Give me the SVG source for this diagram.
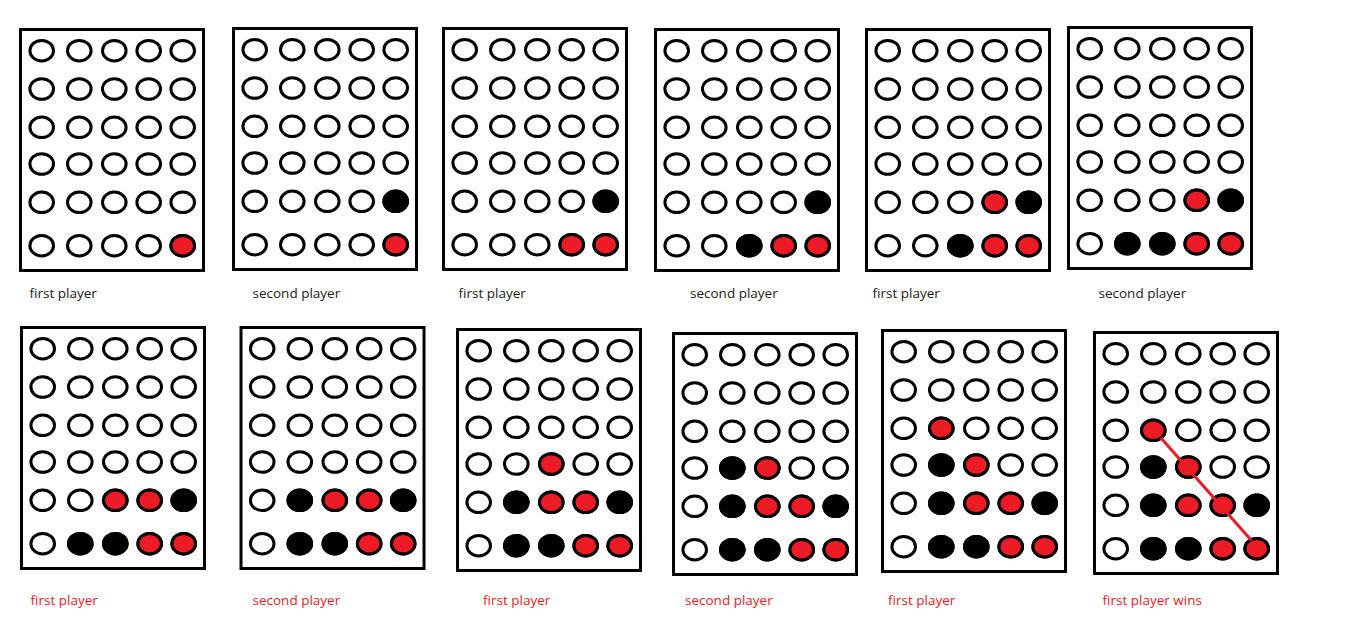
<svg xmlns="http://www.w3.org/2000/svg" xmlns:xlink="http://www.w3.org/1999/xlink" width="1360" height="623" viewBox="0 0 1360 623">
<style>
.frame{fill:#fff;stroke:#000;stroke-width:3}
.e{fill:#fff;stroke:#000;stroke-width:3}
.r{fill:#ED1C24;stroke:#000;stroke-width:3}
.b{fill:#000;stroke:#000;stroke-width:3}
.lbl{font-family:"Open Sans","Noto Sans",sans-serif;font-size:13.5px}
.k{fill:#1a1a1a}
.red{fill:#ED1C24}
.win{stroke:#ED1C24;stroke-width:3;fill:none}
</style>
<defs>
<g id="row"><ellipse class="e" cx="22.7" cy="0" rx="11.8" ry="10.3"/><ellipse class="e" cx="60.3" cy="0" rx="11.8" ry="10.3"/><ellipse class="e" cx="95.3" cy="0" rx="11.8" ry="10.3"/><ellipse class="e" cx="129.7" cy="0" rx="11.8" ry="10.3"/><ellipse class="e" cx="163.7" cy="0" rx="11.8" ry="10.3"/></g>
<g id="grid">
<rect class="frame" x="1.5" y="1.5" width="183" height="241"/>
<use xlink:href="#row" href="#row" y="22.7"/>
<use xlink:href="#row" href="#row" y="61"/>
<use xlink:href="#row" href="#row" y="99.3"/>
<use xlink:href="#row" href="#row" y="136"/>
<use xlink:href="#row" href="#row" y="174.3"/>
<use xlink:href="#row" href="#row" y="217.7"/>
</g>
</defs>
<rect width="1360" height="623" fill="#fff"/>

<g id="board1" transform="translate(19,28)">
<use xlink:href="#grid" href="#grid"/>
<ellipse class="r" cx="163.7" cy="217.7" rx="11.8" ry="10.3"/>
</g>
<g id="board2" transform="translate(232,27)">
<use xlink:href="#grid" href="#grid"/>
<ellipse class="r" cx="163.7" cy="217.7" rx="11.8" ry="10.3"/>
<ellipse class="b" cx="163.7" cy="174.3" rx="11.8" ry="10.3"/>
</g>
<g id="board3" transform="translate(442,27)">
<use xlink:href="#grid" href="#grid"/>
<ellipse class="r" cx="129.7" cy="217.7" rx="11.8" ry="10.3"/>
<ellipse class="r" cx="163.7" cy="217.7" rx="11.8" ry="10.3"/>
<ellipse class="b" cx="163.7" cy="174.3" rx="11.8" ry="10.3"/>
</g>
<g id="board4" transform="translate(654,28)">
<use xlink:href="#grid" href="#grid"/>
<ellipse class="b" cx="95.3" cy="217.7" rx="11.8" ry="10.3"/>
<ellipse class="r" cx="129.7" cy="217.7" rx="11.8" ry="10.3"/>
<ellipse class="r" cx="163.7" cy="217.7" rx="11.8" ry="10.3"/>
<ellipse class="b" cx="163.7" cy="174.3" rx="11.8" ry="10.3"/>
</g>
<g id="board5" transform="translate(865,28)">
<use xlink:href="#grid" href="#grid"/>
<ellipse class="b" cx="95.3" cy="217.7" rx="11.8" ry="10.3"/>
<ellipse class="r" cx="129.7" cy="217.7" rx="11.8" ry="10.3"/>
<ellipse class="r" cx="163.7" cy="217.7" rx="11.8" ry="10.3"/>
<ellipse class="r" cx="129.7" cy="174.3" rx="11.8" ry="10.3"/>
<ellipse class="b" cx="163.7" cy="174.3" rx="11.8" ry="10.3"/>
</g>
<g id="board6" transform="translate(1067,26)">
<use xlink:href="#grid" href="#grid"/>
<ellipse class="b" cx="60.3" cy="217.7" rx="11.8" ry="10.3"/>
<ellipse class="b" cx="95.3" cy="217.7" rx="11.8" ry="10.3"/>
<ellipse class="r" cx="129.7" cy="217.7" rx="11.8" ry="10.3"/>
<ellipse class="r" cx="163.7" cy="217.7" rx="11.8" ry="10.3"/>
<ellipse class="r" cx="129.7" cy="174.3" rx="11.8" ry="10.3"/>
<ellipse class="b" cx="163.7" cy="174.3" rx="11.8" ry="10.3"/>
</g>

<g id="board7" transform="translate(20,326)">
<use xlink:href="#grid" href="#grid"/>
<ellipse class="b" cx="60.3" cy="217.7" rx="11.8" ry="10.3"/>
<ellipse class="b" cx="95.3" cy="217.7" rx="11.8" ry="10.3"/>
<ellipse class="r" cx="129.7" cy="217.7" rx="11.8" ry="10.3"/>
<ellipse class="r" cx="163.7" cy="217.7" rx="11.8" ry="10.3"/>
<ellipse class="r" cx="95.3" cy="174.3" rx="11.8" ry="10.3"/>
<ellipse class="r" cx="129.7" cy="174.3" rx="11.8" ry="10.3"/>
<ellipse class="b" cx="163.7" cy="174.3" rx="11.8" ry="10.3"/>
</g>
<g id="board8" transform="translate(239.5,326)">
<use xlink:href="#grid" href="#grid"/>
<ellipse class="b" cx="60.3" cy="217.7" rx="11.8" ry="10.3"/>
<ellipse class="b" cx="95.3" cy="217.7" rx="11.8" ry="10.3"/>
<ellipse class="r" cx="129.7" cy="217.7" rx="11.8" ry="10.3"/>
<ellipse class="r" cx="163.7" cy="217.7" rx="11.8" ry="10.3"/>
<ellipse class="b" cx="60.3" cy="174.3" rx="11.8" ry="10.3"/>
<ellipse class="r" cx="95.3" cy="174.3" rx="11.8" ry="10.3"/>
<ellipse class="r" cx="129.7" cy="174.3" rx="11.8" ry="10.3"/>
<ellipse class="b" cx="163.7" cy="174.3" rx="11.8" ry="10.3"/>
</g>
<g id="board9" transform="translate(456,328)">
<use xlink:href="#grid" href="#grid"/>
<ellipse class="b" cx="60.3" cy="217.7" rx="11.8" ry="10.3"/>
<ellipse class="b" cx="95.3" cy="217.7" rx="11.8" ry="10.3"/>
<ellipse class="r" cx="129.7" cy="217.7" rx="11.8" ry="10.3"/>
<ellipse class="r" cx="163.7" cy="217.7" rx="11.8" ry="10.3"/>
<ellipse class="b" cx="60.3" cy="174.3" rx="11.8" ry="10.3"/>
<ellipse class="r" cx="95.3" cy="174.3" rx="11.8" ry="10.3"/>
<ellipse class="r" cx="129.7" cy="174.3" rx="11.8" ry="10.3"/>
<ellipse class="b" cx="163.7" cy="174.3" rx="11.8" ry="10.3"/>
<ellipse class="r" cx="95.3" cy="136" rx="11.8" ry="10.3"/>
</g>
<g id="board10" transform="translate(672,332)">
<use xlink:href="#grid" href="#grid"/>
<ellipse class="b" cx="60.3" cy="217.7" rx="11.8" ry="10.3"/>
<ellipse class="b" cx="95.3" cy="217.7" rx="11.8" ry="10.3"/>
<ellipse class="r" cx="129.7" cy="217.7" rx="11.8" ry="10.3"/>
<ellipse class="r" cx="163.7" cy="217.7" rx="11.8" ry="10.3"/>
<ellipse class="b" cx="60.3" cy="174.3" rx="11.8" ry="10.3"/>
<ellipse class="r" cx="95.3" cy="174.3" rx="11.8" ry="10.3"/>
<ellipse class="r" cx="129.7" cy="174.3" rx="11.8" ry="10.3"/>
<ellipse class="b" cx="163.7" cy="174.3" rx="11.8" ry="10.3"/>
<ellipse class="b" cx="60.3" cy="136" rx="11.8" ry="10.3"/>
<ellipse class="r" cx="95.3" cy="136" rx="11.8" ry="10.3"/>
</g>
<g id="board11" transform="translate(881,329)">
<use xlink:href="#grid" href="#grid"/>
<ellipse class="b" cx="60.3" cy="217.7" rx="11.8" ry="10.3"/>
<ellipse class="b" cx="95.3" cy="217.7" rx="11.8" ry="10.3"/>
<ellipse class="r" cx="129.7" cy="217.7" rx="11.8" ry="10.3"/>
<ellipse class="r" cx="163.7" cy="217.7" rx="11.8" ry="10.3"/>
<ellipse class="b" cx="60.3" cy="174.3" rx="11.8" ry="10.3"/>
<ellipse class="r" cx="95.3" cy="174.3" rx="11.8" ry="10.3"/>
<ellipse class="r" cx="129.7" cy="174.3" rx="11.8" ry="10.3"/>
<ellipse class="b" cx="163.7" cy="174.3" rx="11.8" ry="10.3"/>
<ellipse class="b" cx="60.3" cy="136" rx="11.8" ry="10.3"/>
<ellipse class="r" cx="95.3" cy="136" rx="11.8" ry="10.3"/>
<ellipse class="r" cx="60.3" cy="99.3" rx="11.8" ry="10.3"/>
</g>
<g id="board12" transform="translate(1093,331)">
<use xlink:href="#grid" href="#grid"/>
<ellipse class="b" cx="60.3" cy="217.7" rx="11.8" ry="10.3"/>
<ellipse class="b" cx="95.3" cy="217.7" rx="11.8" ry="10.3"/>
<ellipse class="r" cx="129.7" cy="217.7" rx="11.8" ry="10.3"/>
<ellipse class="r" cx="163.7" cy="217.7" rx="11.8" ry="10.3"/>
<ellipse class="b" cx="60.3" cy="174.3" rx="11.8" ry="10.3"/>
<ellipse class="r" cx="95.3" cy="174.3" rx="11.8" ry="10.3"/>
<ellipse class="r" cx="129.7" cy="174.3" rx="11.8" ry="10.3"/>
<ellipse class="b" cx="163.7" cy="174.3" rx="11.8" ry="10.3"/>
<ellipse class="b" cx="60.3" cy="136" rx="11.8" ry="10.3"/>
<ellipse class="r" cx="95.3" cy="136" rx="11.8" ry="10.3"/>
<ellipse class="r" cx="60.3" cy="99.3" rx="11.8" ry="10.3"/>
</g>

<g id="connectors">
<line class="win" x1="1161" y1="438" x2="1251" y2="540"/>
</g>

<g id="labels" class="lbl">
<text class="k" x="29.5" y="298">first player</text>
<text class="k" x="252.5" y="298">second player</text>
<text class="k" x="458.5" y="298">first player</text>
<text class="k" x="690" y="298">second player</text>
<text class="k" x="872.5" y="298">first player</text>
<text class="k" x="1098.5" y="298">second player</text>
<text class="red" x="30.5" y="605">first player</text>
<text class="red" x="252.5" y="605">second player</text>
<text class="red" x="483" y="605">first player</text>
<text class="red" x="685" y="605">second player</text>
<text class="red" x="888" y="605">first player</text>
<text class="red" x="1102.5" y="605">first player wins</text>
</g>
</svg>
